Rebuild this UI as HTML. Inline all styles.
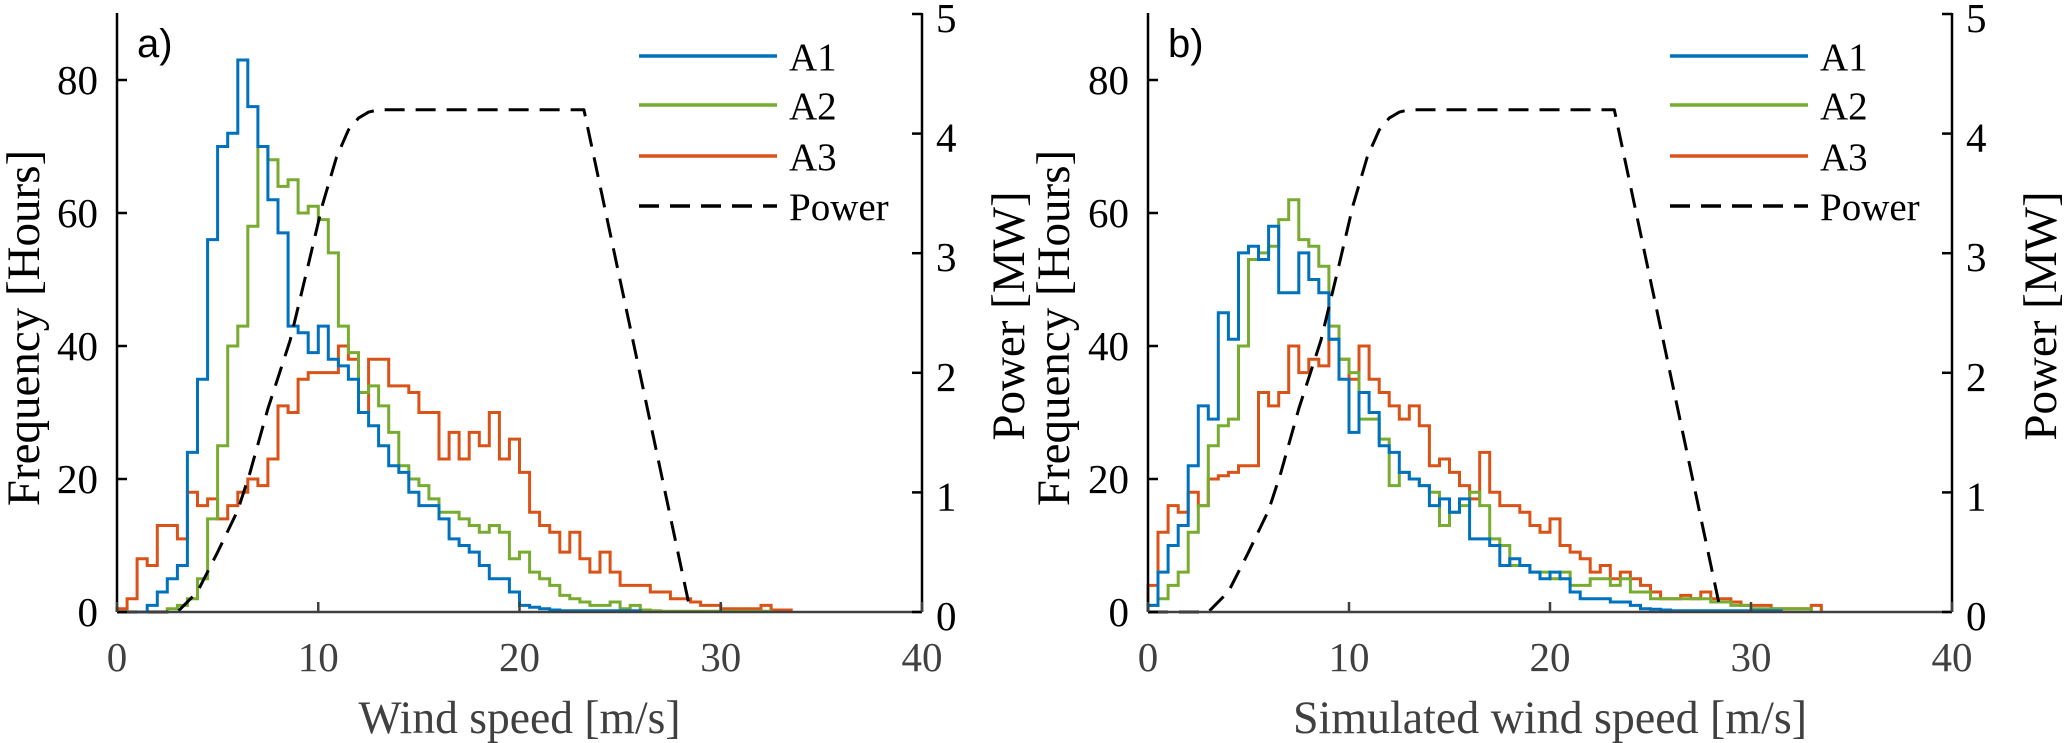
<!DOCTYPE html>
<html><head><meta charset="utf-8"><style>
html,body{margin:0;padding:0;background:#fff;}
svg{display:block;font-family:"Liberation Serif",serif;}
</style></head><body>
<svg id="s" width="2067" height="743" viewBox="0 0 2067 743" xmlns="http://www.w3.org/2000/svg"></svg>
<script>
var NS="http://www.w3.org/2000/svg",S=document.getElementById('s');
function el(t,a,txt){var e=document.createElementNS(NS,t);for(var k in a)e.setAttribute(k,a[k]);if(txt!=null)e.textContent=txt;S.appendChild(e);return e;}
var P=[[0,0],[3,0],[4,0.17],[5,0.5],[6,0.85],[6.6,1.16],[7.5,1.7],[8.6,2.27],[9.5,2.9],[10.2,3.4],[10.9,3.8],[11.5,4.03],[12,4.13],[12.5,4.18],[13,4.2],[23.2,4.2],[28.5,0]];
var A={
a1:[0,0,0,1,3,5,7,24,35,56,70,72,83,76,70,62,57,43,42,39,43,38,37,35,30,28,25,22,21,18,16,16,14,11,10,9,7,5,5,3,1,0.7,0.5,0.3,0.2,0.2,0.2,0.2,0.2,0.2,0.2,0.2],
a2:[0,0,0,0,0,0.5,1,2,5,14,25,40,43,58,70,68,64,65,60,61,59,54,43,39,33,34,31,27,22,20,19,17,15,15,14,13,12,13,12,8,9,6,5,4,2.5,2,1.5,1,1,1.5,0.5,1,0.3,0.2,0.1,0.1,0.1,0.1,0.1,0.1,0.1,0.1,0.1,0.1,0.1],
a3:[0.5,2,8,7,13,13,11,18,16,17,14,16,18,20,19,23,31,30,35,36,36,36,40,38,30,38,38,34,34,33,30,30,23,27,23,27,25,30,23,26,21,15,13,12,9,12,8,6,9,6,4,4,4,3,3,2,2,1.5,1,1,0.5,0.5,0.5,0.5,1,0.3,0.3],
b1:[1,6,10,13,22,31,29,45,41,54,55,53,58,48,48,54,50,48,41,35,27,33,30,25,24,21,20,19,16,17,15,17,11,11,10,7,8,7,6,5,6,5,3,2,2,2,1.5,1.5,1,0.5,0.4,0.3,0.2,0.2,0.2,0.2,0.2,0.2,0.2,0.2,0.2,0.2,0.2],
b2:[1,2,4,6,12,16,25,28,29,40,53,54,55,59,62,56,55,52,43,38,36,29,29,26,19,21,20,19,18,13,15,16,18,16,11,10,7,7,6,6,5,6,4,4,5,5,4,5,3,3,2,2,2,2,2,2,1.5,1.5,1,1,0.5,0.5,0.5,0.5,0.5,0.5],
b3:[4,12,16,15,18,16,20,20.5,21,22,22,33,31,33,40,36,38,37,41,38,35,40,35,33,31,29,31,28,22,23,21,19,17,24,18,16,16,15,13,12,14,10,9,8,6,7,5,6,5,4,3,2,2,2.5,2,3,2,2,1.5,1,1,1,0.5,0.5,0.5,0.5,1]
};
function panel(x0,x40,lab,xl,xlw,d1,d2,d3,ylx,prx){
 var sx=(x40-x0)/40,y0=612,sy=6.65,sp=119.6;
 function X(v){return x0+v*sx;}
 function hist(d,c){var p='M'+X(0)+','+y0;for(var i=0;i<d.length;i++){var y=y0-d[i]*sy;p+=' L'+X(i*0.5).toFixed(1)+','+y.toFixed(1)+' L'+X(i*0.5+0.5).toFixed(1)+','+y.toFixed(1);}p+=' L'+X(d.length*0.5).toFixed(1)+','+y0;el('path',{d:p,fill:'none',stroke:c,'stroke-width':3,'stroke-linejoin':'miter'});}
 hist(d3,'#D95319');hist(d2,'#77AC30');hist(d1,'#0072BD');
 var pp='';P.forEach(function(q,i){pp+=(i?' L':'M')+X(q[0]).toFixed(1)+','+(y0-q[1]*sp).toFixed(1);});
 el('path',{d:pp,fill:'none',stroke:'#000','stroke-width':3,'stroke-dasharray':'20,11','stroke-linejoin':'round'});
 el('line',{x1:x0,y1:13,x2:x0,y2:y0,stroke:'#000','stroke-width':2.5});
 el('line',{x1:x40,y1:13,x2:x40,y2:y0,stroke:'#000','stroke-width':2.5});
 el('line',{x1:x0,y1:y0,x2:x40,y2:y0,stroke:'#404040','stroke-width':2.5});
 for(var f=0;f<=80;f+=20){var y=y0-f*sy;el('line',{x1:x0,y1:y,x2:x0+10,y2:y,stroke:'#000','stroke-width':2.5});el('text',{x:x0-19,y:y+14,'font-size':41,'text-anchor':'end',fill:'#000'},f);}
 for(var p=0;p<=5;p++){var y=y0-p*sp;el('line',{x1:x40-10,y1:y,x2:x40,y2:y,stroke:'#000','stroke-width':2.5});el('text',{x:x40+14,y:y+18,'font-size':41,fill:'#000'},p);}
 for(var v=0;v<=40;v+=10){var x=X(v);el('line',{x1:x,y1:y0,x2:x,y2:y0-10,stroke:'#404040','stroke-width':2.5});el('text',{x:x,y:671,'font-size':41,'text-anchor':'middle',fill:'#404040'},v);}
 el('text',{x:(x0+x40)/2-xlw/2,y:733,'font-size':47,fill:'#404040',textLength:xlw,lengthAdjust:'spacingAndGlyphs'},xl);
 el('text',{x:0,y:0,'font-size':47,'text-anchor':'middle',fill:'#000',transform:'translate('+(ylx+16)+',328) rotate(-90)'},'Frequency [Hours]');
 el('text',{x:0,y:0,'font-size':47,'text-anchor':'middle',fill:'#000',transform:'translate('+(prx+16)+',316) rotate(-90)'},'Power [MW]');
 el('text',{x:x0+20,y:57,'font-size':40,'font-family':'Liberation Sans, sans-serif',fill:'#000'},lab);
 var lx=x0+522,cols=['#0072BD','#77AC30','#D95319','#000'],nm=['A1','A2','A3','Power'],ly=[56,105,156,206];
 for(var i=0;i<4;i++){var a={x1:lx,y1:ly[i],x2:lx+138,y2:ly[i],stroke:cols[i],'stroke-width':3.5};if(i==3)a['stroke-dasharray']='20,11';el('line',a);el('text',{x:lx+150,y:ly[i]+14,'font-size':39,fill:'#000'},nm[i]);}
}
panel(117,922,'a)','Wind speed [m/s]',322,A.a1,A.a2,A.a3,23,1008);
panel(1148,1952,'b)','Simulated wind speed [m/s]',514,A.b1,A.b2,A.b3,1053,2040);
</script>
</body></html>
